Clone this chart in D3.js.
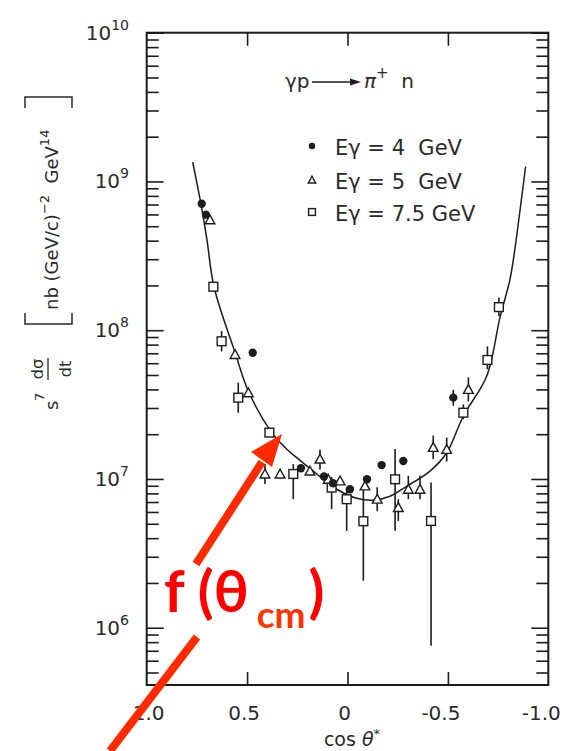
<!DOCTYPE html>
<html>
<head>
<meta charset="utf-8">
<script src="https://cdn.jsdelivr.net/npm/d3@7"></script>
<style>
  body { margin: 0; background: #fff; }
  svg { display: block; }
  text { font-family: "DejaVu Sans", sans-serif; fill: #2a2a2a; }
</style>
</head>
<body>
<svg id="chart" width="579" height="751"></svg>
<script>
// fitted curve f(theta_cm)
const curveCos = [0.771, 0.730, 0.700, 0.665, 0.560, 0.494, 0.377, 0.311, 0.253, 0.153, 0.054,
  -0.046, -0.122, -0.212, -0.295, -0.411, -0.494, -0.577, -0.693, -0.759, -0.809, -0.826, -0.887];
const curveVal = [1.35e9, 7.08e8, 4.06e8, 1.96e8, 7.08e7, 3.90e7, 2.05e7, 1.63e7, 1.39e7, 1.08e7, 8.53e6,
  7.41e6, 7.19e6, 7.66e6, 8.93e6, 1.13e7, 1.50e7, 2.65e7, 4.91e7, 1.21e8, 2.19e8, 2.98e8, 1.26e9];

// [cos theta*, s^7 dsigma/dt, error low, error high]  (null = no bar drawn)
const e4Points = [
  [0.726, 7.08e8, null, null], [0.705, 5.98e8, null, null], [0.472, 7.05e7, null, null],
  [0.232, 1.18e7, null, null], [0.117, 1.04e7, null, null], [0.072, 9.36e6, null, null],
  [-0.012, 8.53e6, null, null], [-0.097, 9.95e6, null, null], [-0.170, 1.24e7, null, null],
  [-0.278, 1.32e7, null, null], [-0.527, 3.52e7, 3.11e7, 3.98e7]
];
const e5Points = [
  [0.685, 5.53e8, null, null], [0.560, 6.87e7, null, null], [0.494, 3.80e7, null, null],
  [0.411, 1.08e7, 9.25e6, 1.26e7], [0.336, 1.08e7, null, null], [0.187, 1.13e7, null, null],
  [0.137, 1.36e7, 1.16e7, 1.58e7], [0.096, 9.95e6, null, null], [0.037, 9.71e6, null, null],
  [-0.087, 8.98e6, null, null], [-0.148, 7.31e6, 6.07e6, 8.80e6], [-0.253, 6.43e6, 5.22e6, 7.31e6],
  [-0.303, 8.53e6, 7.31e6, 1.05e7], [-0.361, 8.53e6, 7.31e6, 1.05e7], [-0.427, 1.63e7, 1.36e7, 1.96e7],
  [-0.494, 1.58e7, 1.31e7, 1.90e7], [-0.602, 4.00e7, 3.32e7, 4.82e7]
];
const e75Points = [
  [0.668, 1.96e8, null, null], [0.627, 8.43e7, 7.20e7, 9.87e7], [0.544, 3.52e7, 2.79e7, 4.44e7],
  [0.389, 2.05e7, null, null], [0.270, 1.08e7, 7.31e6, 1.26e7], [0.079, 8.75e6, 6.27e6, 1.03e7],
  [0.004, 7.31e6, 4.48e6, 8.53e6], [-0.079, 5.20e6, 2.07e6, 8.53e6], [-0.237, 9.95e6, 4.48e6, 1.59e7],
  [-0.416, 5.22e6, 7.57e5, 9.46e6], [-0.577, 2.79e7, 2.52e7, 3.17e7], [-0.697, 6.31e7, 5.46e7, 7.78e7],
  [-0.754, 1.43e8, 1.24e8, 1.66e8]
];

const legendLabels = ["E\u03b3 = 4  GeV", "E\u03b3 = 5  GeV", "E\u03b3 = 7.5 GeV"];
const legendKinds = ["dot", "tri", "sq"];
const xTickVals = [1, 0.5, 0, -0.5, -1];
const xTickLabels = ["1.0", "0.5", "0", "-0.5", "-1.0"];
const yDecades = [6, 7, 8, 9, 10];

const W = 579, H = 751;
const plot = { left: 146.7, right: 548.3, top: 32.7, bottom: 685 };
const ink = "#1c1c1c";

const svg = d3.select("#chart");

const x = d3.scaleLinear().domain([1, -1]).range([plot.left, plot.right]);
const y = d3.scaleLog().domain([Math.pow(10, 5.615), 1e10]).range([plot.bottom, plot.top]);

// minor / major tick values for the log axis
const yMajor = yDecades.map(d => Math.pow(10, d));
const yMinor = [];
for (let d = 5; d <= 9; d++) {
  for (let m = 2; m <= 9; m++) {
    const v = m * Math.pow(10, d);
    if (v >= y.domain()[0] && v <= y.domain()[1]) yMinor.push(v);
  }
}

function styleAxis(g) {
  g.select(".domain").remove();
  g.selectAll(".tick line").attr("stroke", ink).attr("stroke-width", 1.6);
  g.selectAll(".tick text").remove();
}

// left axis: ticks point into the plot
svg.append("g").attr("transform", `translate(${plot.left},0)`)
  .call(d3.axisRight(y).tickValues(yMinor).tickSize(12).tickFormat(""))
  .call(styleAxis);
svg.append("g").attr("transform", `translate(${plot.left},0)`)
  .call(d3.axisRight(y).tickValues(yMajor).tickSize(17).tickFormat(""))
  .call(styleAxis);
// right axis
svg.append("g").attr("transform", `translate(${plot.right},0)`)
  .call(d3.axisLeft(y).tickValues(yMinor).tickSize(12).tickFormat(""))
  .call(styleAxis);
svg.append("g").attr("transform", `translate(${plot.right},0)`)
  .call(d3.axisLeft(y).tickValues(yMajor).tickSize(17).tickFormat(""))
  .call(styleAxis);
// top and bottom axes
svg.append("g").attr("transform", `translate(0,${plot.top})`)
  .call(d3.axisBottom(x).tickValues([0.5, 0, -0.5]).tickSize(13).tickFormat(""))
  .call(styleAxis);
svg.append("g").attr("transform", `translate(0,${plot.bottom})`)
  .call(d3.axisTop(x).tickValues([0.5, 0, -0.5]).tickSize(13).tickFormat(""))
  .call(styleAxis);

// frame
svg.append("rect")
  .attr("x", plot.left).attr("y", plot.top)
  .attr("width", plot.right - plot.left).attr("height", plot.bottom - plot.top)
  .attr("fill", "none").attr("stroke", ink).attr("stroke-width", 2);

// y tick labels 10^n
const yLab = svg.append("g");
yDecades.forEach(d => {
  const t = yLab.append("text")
    .attr("x", 129).attr("y", y(Math.pow(10, d)) + 7)
    .attr("text-anchor", "end")
    .style("font-size", "20px");
  t.append("tspan").text("10");
  t.append("tspan").attr("dy", -10).style("font-size", "14px").text(d);
});

// x tick labels
svg.append("g").selectAll("text")
  .data(xTickVals)
  .join("text")
  .attr("x", (d, i) => x(d) + (d < 0 ? -7 : (d > 0.7 ? 2 : -3)))
  .attr("y", 720)
  .attr("text-anchor", "middle")
  .style("font-size", "20px")
  .text((d, i) => xTickLabels[i]);

// x axis title
const xt = svg.append("text")
  .attr("x", 352).attr("y", 746)
  .attr("text-anchor", "middle")
  .style("font-size", "19px");
xt.append("tspan").text("cos ");
xt.append("tspan").style("font-style", "italic").text("\u03b8");
xt.append("tspan").attr("dy", -8).style("font-size", "13px").text("*");

// y axis title (rotated)
const yt = svg.append("g").attr("transform", "translate(58,410) rotate(-90)");
yt.append("text").attr("x", 0).attr("y", 0).style("font-size", "18px").text("s");
yt.append("text").attr("x", 9).attr("y", -14).style("font-size", "13px").text("7");
yt.append("text").attr("x", 41).attr("y", -15).attr("text-anchor", "middle").style("font-size", "16px").text("d\u03c3");
yt.append("line").attr("x1", 30).attr("x2", 52).attr("y1", -10).attr("y2", -10)
  .attr("stroke", "#2a2a2a").attr("stroke-width", 1.3);
yt.append("text").attr("x", 41).attr("y", 13).attr("text-anchor", "middle").style("font-size", "16px").text("dt");
yt.append("path").attr("d", "M97,-33H86V14H97").attr("fill", "none").attr("stroke", "#2a2a2a").attr("stroke-width", 1.5);
yt.append("path").attr("d", "M302,-33H313V14H302").attr("fill", "none").attr("stroke", "#2a2a2a").attr("stroke-width", 1.5);
const ym = yt.append("text").attr("x", 100).attr("y", 0).style("font-size", "18px").style("white-space", "pre");
ym.append("tspan").text("nb (GeV/c)");
ym.append("tspan").attr("dy", -9).style("font-size", "13px").text("\u22122");
ym.append("tspan").attr("dy", 9).text("  GeV");
ym.append("tspan").attr("dy", -9).style("font-size", "13px").text("14");

// reaction label
const rx = svg.append("g");
rx.append("text").attr("x", 285).attr("y", 88).style("font-size", "20px").text("\u03b3p");
rx.append("line").attr("x1", 312).attr("x2", 352).attr("y1", 82).attr("y2", 82)
  .attr("stroke", ink).attr("stroke-width", 1.5);
rx.append("path").attr("d", "M350,78.5L361,82L350,85.5Z").attr("fill", ink);
const pi = rx.append("text").attr("x", 364).attr("y", 88).style("font-size", "20px").style("white-space", "pre");
pi.append("tspan").style("font-style", "italic").text("\u03c0");
pi.append("tspan").attr("dy", -10).style("font-size", "15px").text("+");
pi.append("tspan").attr("dy", 10).text("  n");

// markers
function marker(g, kind, cx, cy, s) {
  if (kind === "dot") {
    g.append("circle").attr("cx", cx).attr("cy", cy).attr("r", s * 0.95).attr("fill", ink);
  } else if (kind === "tri") {
    const h = s * 2;
    g.append("path")
      .attr("d", `M${cx},${cy - h * 0.55}L${cx + s * 1.1},${cy + h * 0.45}L${cx - s * 1.1},${cy + h * 0.45}Z`)
      .attr("fill", "#fff").attr("stroke", ink).attr("stroke-width", 1.4);
  } else {
    g.append("rect").attr("x", cx - s).attr("y", cy - s).attr("width", 2 * s).attr("height", 2 * s)
      .attr("fill", "#fff").attr("stroke", ink).attr("stroke-width", 1.4);
  }
}

// fitted curve
const line = d3.line()
  .x((d, i) => x(curveCos[i]))
  .y(d => y(d))
  .curve(d3.curveCatmullRom.alpha(0.5));
svg.append("path")
  .attr("d", line(curveVal))
  .attr("fill", "none").attr("stroke", ink).attr("stroke-width", 1.5);

const series = [
  { kind: "sq", pts: e75Points },
  { kind: "tri", pts: e5Points },
  { kind: "dot", pts: e4Points }
];
const dataG = svg.append("g");
series.forEach(s => {
  s.pts.forEach(p => {
    if (p[2] !== null) {
      dataG.append("line")
        .attr("x1", x(p[0])).attr("x2", x(p[0]))
        .attr("y1", y(p[2])).attr("y2", y(p[3]))
        .attr("stroke", ink).attr("stroke-width", 1.6);
    }
  });
  s.pts.forEach(p => marker(dataG, s.kind, x(p[0]), y(p[1]), 4.4));
});

// legend
const lg = svg.append("g");
legendLabels.forEach((t, i) => {
  const ly = [146, 180, 212][i];
  marker(lg, legendKinds[i], 312, ly, 3.4);
  lg.append("text").attr("x", 335).attr("y", ly + 9)
    .style("font-size", "21px").style("white-space", "pre").text(t);
});

// red annotation f(theta_cm)
const red = svg.append("g");
red.append("line").attr("x1", 110).attr("y1", 751).attr("x2", 197).attr("y2", 637)
  .attr("stroke", "#ff2a00").attr("stroke-width", 8);
red.append("line").attr("x1", 196).attr("y1", 564).attr("x2", 262).attr("y2", 462)
  .attr("stroke", "#ff2a00").attr("stroke-width", 8);
red.append("path").attr("d", "M282,434L251,452L272,467Z").attr("fill", "#ff2a00");
const ft = red.append("text").attr("x", 164).attr("y", 612)
  .style("font-family", "Lato, 'Open Sans', sans-serif").style("font-weight", "bold")
  .style("font-size", "58px").style("white-space", "pre");
ft.append("tspan").style("fill", "#ff0000").text("f (\u03b8");
ft.append("tspan").attr("dx", 8).attr("dy", 16).style("fill", "#ff3300").style("font-size", "37px").text("cm");
ft.append("tspan").attr("dx", 3).attr("dy", -16).style("fill", "#ff0000").text(")");
</script>
</body>
</html>
